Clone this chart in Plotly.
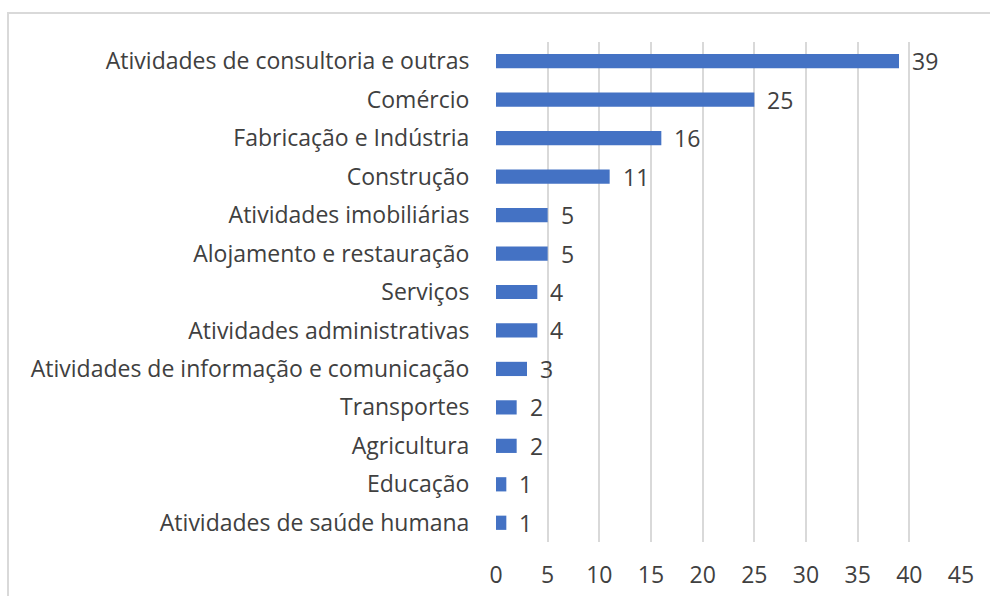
import plotly.graph_objects as go

categories = [
    "Atividades de consultoria e outras",
    "Comércio",
    "Fabricação e Indústria",
    "Construção",
    "Atividades imobiliárias",
    "Alojamento e restauração",
    "Serviços",
    "Atividades administrativas",
    "Atividades de informação e comunicação",
    "Transportes",
    "Agricultura",
    "Educação",
    "Atividades de saúde humana",
]
values = [39, 25, 16, 11, 5, 5, 4, 4, 3, 2, 2, 1, 1]
x_ticks = [0, 5, 10, 15, 20, 25, 30, 35, 40, 45]

W, H = 990, 596
ml, mr, mt, mb = 496, 29, 42, 54
pw, ph = W - ml - mr, H - mt - mb
FS = 23
TXT = "#404040"

fig = go.Figure(go.Bar(
    y=categories, x=values, orientation="h",
    marker=dict(color="#4472C4", line=dict(width=0)),
    width=0.37, hoverinfo="x+y",
))

for c, v in zip(categories, values):
    fig.add_annotation(x=v, y=c, text=str(v), showarrow=False,
                       xanchor="left", yanchor="middle", xshift=11,
                       font=dict(size=FS, color=TXT))

fig.update_layout(
    width=W, height=H,
    margin=dict(l=ml, r=mr, t=mt, b=mb, pad=0, autoexpand=False),
    paper_bgcolor="white", plot_bgcolor="white",
    font=dict(family="Open Sans", size=FS, color=TXT),
    showlegend=False,
    xaxis=dict(range=[0, 45], tickvals=x_ticks, showgrid=True,
               gridcolor="#d9d9d9", gridwidth=2, zeroline=False,
               showline=False, ticks="outside", ticklen=12,
               tickcolor="rgba(0,0,0,0)", tickfont=dict(size=FS),
               automargin=False),
    yaxis=dict(autorange="reversed", showgrid=False, zeroline=False,
               showline=False, ticks="outside", ticklen=21,
               tickcolor="rgba(0,0,0,0)", tickfont=dict(size=FS),
               automargin=False),
    shapes=[dict(type="rect", xref="paper", yref="paper",
                 x0=(8 - ml) / pw, x1=(W + 20 - ml) / pw,
                 y0=-0.3, y1=(H - mb - 13) / ph,
                 line=dict(color="#d9d9d9", width=2), layer="below")],
)

fig.write_html("out.html",
               config={"displayModeBar": False},
               post_script="document.body.style.margin='0';document.body.style.overflow='hidden';")
